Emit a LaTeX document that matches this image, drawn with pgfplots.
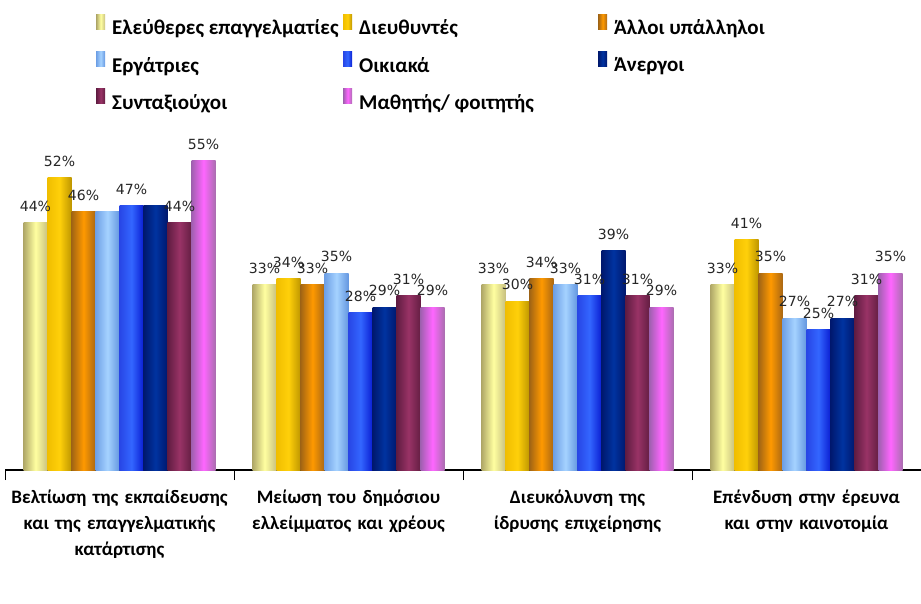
\documentclass[border=0pt]{standalone}
\usepackage{pgfplots}
\pgfplotsset{compat=1.18}
\usepackage{fontspec}
\setmainfont{Carlito}
\newfontfamily\lblfont{DejaVu Sans}
\def\nnlabel{n}
\newcommand\mylbl{\edef\tmp{\pgfplotspointmeta}\ifx\tmp\nnlabel\else\pgfplotspointmeta\%\fi}
\pgfplotsset{
  myleg/.style={legend image code/.code={\path[##1,draw=none] (0pt,-1pt) rectangle (9pt,14pt);}},
  s1/.style={draw=none, myleg, bar shift=-84pt, left color={rgb,255:red,176;green,168;blue,104}, right color={rgb,255:red,200;green,192;blue,128}, middle color={rgb,255:red,255;green,255;blue,160}},
  s2/.style={draw=none, myleg, bar shift=-60pt, left color={rgb,255:red,240;green,190;blue,0}, right color={rgb,255:red,190;green,150;blue,0}, middle color={rgb,255:red,255;green,208;blue,10}},
  s3/.style={draw=none, myleg, bar shift=-36pt, left color={rgb,255:red,160;green,100;blue,20}, right color={rgb,255:red,170;green,104;blue,20}, middle color={rgb,255:red,255;green,153;blue,0}},
  s4/.style={draw=none, myleg, bar shift=-12pt, left color={rgb,255:red,110;green,160;blue,230}, right color={rgb,255:red,100;green,150;blue,224}, middle color={rgb,255:red,165;green,210;blue,255}},
  s5/.style={draw=none, myleg, bar shift=12pt, left color={rgb,255:red,40;green,70;blue,230}, right color={rgb,255:red,10;green,30;blue,210}, middle color={rgb,255:red,51;green,102;blue,255}},
  s6/.style={draw=none, myleg, bar shift=36pt, left color={rgb,255:red,0;green,24;blue,110}, right color={rgb,255:red,0;green,24;blue,110}, middle color={rgb,255:red,0;green,51;blue,160}},
  s7/.style={draw=none, myleg, bar shift=60pt, left color={rgb,255:red,96;green,28;blue,66}, right color={rgb,255:red,100;green,30;blue,66}, middle color={rgb,255:red,153;green,51;blue,102}},
  s8/.style={draw=none, myleg, bar shift=84pt, left color={rgb,255:red,160;green,96;blue,176}, right color={rgb,255:red,170;green,110;blue,176}, middle color={rgb,255:red,255;green,102;blue,255}},
}
\begin{document}
\begin{tikzpicture}
\begin{axis}[
  name=ax,
  scale only axis, width=916pt, height=326pt,
  xmin=-0.5, xmax=3.5, ymin=0, ymax=58,
  ybar=0pt, bar width=24pt,
  axis x line*=bottom, axis y line=none,
  axis line style={line width=1.3pt, black},
  xtick={0,1,2,3},
  xticklabels={{Βελτίωση της εκπαίδευσης\\και της επαγγελματικής\\κατάρτισης},
               {Μείωση του δημόσιου\\ελλείμματος και χρέους},
               {Διευκόλυνση της\\ίδρυσης επιχείρησης},
               {Επένδυση στην έρευνα\\και στην καινοτομία}},
  major tick length=0pt,
  minor xtick={-0.5,0.5,1.5,2.5,3.5},
  minor tick length=10pt, xtick align=outside,
  minor tick style={black, line width=0.8pt},
  xticklabel style={font=\fontsize{19}{26}\selectfont\bfseries, align=center, text width=240pt, yshift=-16pt},
  point meta=explicit symbolic,
  nodes near coords=\mylbl,
  every node near coord/.append style={font=\lblfont\fontsize{14}{15}\selectfont, inner sep=0pt, anchor=south, yshift=11pt, text=black!85},
  legend columns=3,
  legend cell align=left,
  legend style={draw=none, fill=none, at={(axis description cs:0,1)}, anchor=north west,
    xshift=88pt, yshift=132pt, font=\fontsize{21}{22}\selectfont\bfseries, row sep=13pt,
    /tikz/every odd column/.append style={column sep=5pt}},
  clip=false,
]
% group 1 (with legend entries)
\addplot[s1] coordinates {(0,44) [44]};
\addlegendentry{\makebox[229pt][l]{Ελεύθερες επαγγελματίες}}
\addplot[s2] coordinates {(0,52) [52]};
\addlegendentry{\makebox[237pt][l]{Διευθυντές}}
\addplot[s3] coordinates {(0,46) [46]};
\addlegendentry{\makebox[200pt][l]{Άλλοι υπάλληλοι}}
\addplot[s4] coordinates {(0,46) [n]};
\addlegendentry{\makebox[229pt][l]{Εργάτριες}}
\addplot[s5] coordinates {(0,47) [47]};
\addlegendentry{\makebox[237pt][l]{Οικιακά}}
\addplot[s6] coordinates {(0,47) [n]};
\addlegendentry{\makebox[200pt][l]{Άνεργοι}}
\addplot[s7] coordinates {(0,44) [44]};
\addlegendentry{\makebox[229pt][l]{Συνταξιούχοι}}
\addplot[s8] coordinates {(0,55) [55]};
\addlegendentry{\makebox[237pt][l]{Μαθητής/ φοιτητής}}
% group 2
\addplot[s1, forget plot] coordinates {(1,33) [33]};
\addplot[s2, forget plot] coordinates {(1,34) [34]};
\addplot[s3, forget plot] coordinates {(1,33) [33]};
\addplot[s4, forget plot] coordinates {(1,35) [35]};
\addplot[s5, forget plot] coordinates {(1,28) [28]};
\addplot[s6, forget plot] coordinates {(1,29) [29]};
\addplot[s7, forget plot] coordinates {(1,31) [31]};
\addplot[s8, forget plot] coordinates {(1,29) [29]};
% group 3
\addplot[s1, forget plot] coordinates {(2,33) [33]};
\addplot[s2, forget plot] coordinates {(2,30) [30]};
\addplot[s3, forget plot] coordinates {(2,34) [34]};
\addplot[s4, forget plot] coordinates {(2,33) [33]};
\addplot[s5, forget plot] coordinates {(2,31) [31]};
\addplot[s6, forget plot] coordinates {(2,39) [39]};
\addplot[s7, forget plot] coordinates {(2,31) [31]};
\addplot[s8, forget plot] coordinates {(2,29) [29]};
% group 4
\addplot[s1, forget plot] coordinates {(3,33) [33]};
\addplot[s2, forget plot] coordinates {(3,41) [41]};
\addplot[s3, forget plot] coordinates {(3,35) [35]};
\addplot[s4, forget plot] coordinates {(3,27) [27]};
\addplot[s5, forget plot] coordinates {(3,25) [25]};
\addplot[s6, forget plot] coordinates {(3,27) [27]};
\addplot[s7, forget plot] coordinates {(3,31) [31]};
\addplot[s8, forget plot] coordinates {(3,35) [35]};
\end{axis}
\pgfresetboundingbox
\useasboundingbox ([xshift=-5pt,yshift=-133pt]ax.south west) rectangle ([yshift=470pt]ax.south east);
\end{tikzpicture}
\end{document}
